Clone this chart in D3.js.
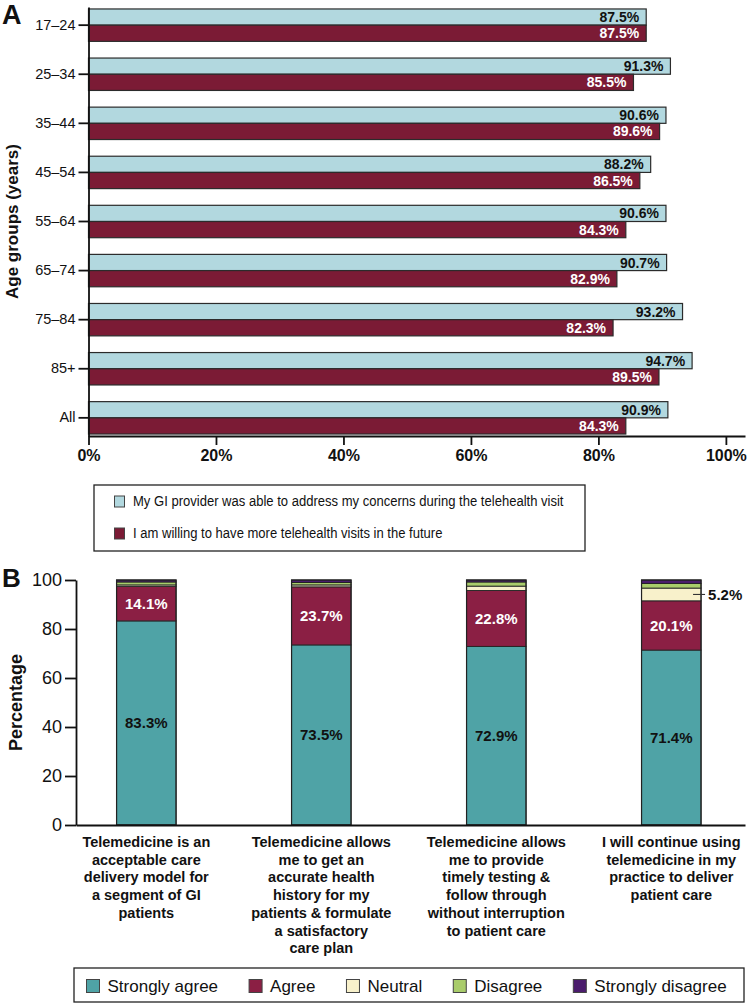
<!DOCTYPE html>
<html>
<head>
<meta charset="utf-8">
<script src="https://cdn.jsdelivr.net/npm/d3@7"></script>
<style>
  html, body { margin: 0; padding: 0; background: #fff; }
  svg { display: block; font-family: "Liberation Sans", Arial, Helvetica, sans-serif; }
</style>
</head>
<body>
<svg id="chart" width="749" height="1005"></svg>
<script>
// ---------- Panel A data ----------
const ageGroups = ["17–24", "25–34", "35–44", "45–54", "55–64", "65–74", "75–84", "85+", "All"];
const addressConcerns = [87.5, 91.3, 90.6, 88.2, 90.6, 90.7, 93.2, 94.7, 90.9];
const willingMore = [87.5, 85.5, 89.6, 86.5, 84.3, 82.9, 82.3, 89.5, 84.3];
const seriesA = ["My GI provider was able to address my concerns during the telehealth visit",
                 "I am willing to have more telehealth visits in the future"];
const xTicksA = [0, 20, 40, 60, 80, 100];

// ---------- Panel B data ----------
const statements = [
  ["Telemedicine is an", "acceptable care", "delivery model for", "a segment of GI", "patients"],
  ["Telemedicine allows", "me to get an", "accurate health", "history for my", "patients & formulate", "a satisfactory", "care plan"],
  ["Telemedicine allows", "me to provide", "timely testing &", "follow through", "without interruption", "to patient care"],
  ["I will continue using", "telemedicine in my", "practice to deliver", "patient care"]
];
const responses = ["Strongly agree", "Agree", "Neutral", "Disagree", "Strongly disagree"];
const stronglyAgree = [83.3, 73.5, 72.9, 71.4];
const agree = [14.1, 23.7, 22.8, 20.1];
const neutral = [0.6, 0.8, 1.8, 5.2];
const disagree = [1.2, 1.0, 1.7, 1.9];
const stronglyDisagree = [0.8, 1.0, 0.8, 1.4];
const yTicksB = [0, 20, 40, 60, 80, 100];

// ---------- styles ----------
const colA = ["#b2d8df", "#7b1b35"];
const colB = ["#4fa3a6", "#8b1f44", "#f8f1cb", "#a9cc6b", "#4b1c6d"];
const svg = d3.select("#chart");

// ================= PANEL A =================
const gA = svg.append("g");
const xA = d3.scaleLinear().domain([0, 103]).range([88.5, 745]);
const yA = d3.scaleBand().domain(ageGroups).range([7, 436]).paddingInner(0.34).paddingOuter(0.04);
const sub = d3.scaleBand().domain([0, 1]).range([0, yA.bandwidth()]);

const rowsA = ageGroups.map((g, i) => ({g, vals: [addressConcerns[i], willingMore[i]]}));
const grp = gA.selectAll("g.row").data(rowsA).join("g").attr("class", "row")
  .attr("transform", d => `translate(0,${yA(d.g)})`);
grp.selectAll("rect").data(d => d.vals.map((v, k) => ({v, k}))).join("rect")
  .attr("x", xA(0)).attr("y", d => sub(d.k))
  .attr("width", d => xA(d.v) - xA(0)).attr("height", sub.bandwidth())
  .attr("fill", d => colA[d.k]).attr("stroke", "#2b2b2b").attr("stroke-width", 1.2);
grp.selectAll("text").data(d => d.vals.map((v, k) => ({v, k}))).join("text")
  .attr("x", d => xA(d.v) - 7).attr("y", d => sub(d.k) + sub.bandwidth() / 2)
  .attr("dy", "0.36em").attr("text-anchor", "end")
  .attr("font-size", 14).attr("font-weight", "bold")
  .attr("fill", d => d.k === 0 ? "#111" : "#fff")
  .text(d => d.v.toFixed(1) + "%");

// y axis
const yAxisA = gA.append("g").attr("transform", `translate(${xA(0)},0)`)
  .call(d3.axisLeft(yA).tickSize(10).tickSizeOuter(0).tickPadding(3));
yAxisA.selectAll("text").attr("font-size", 14.5).attr("fill", "#111");
// x axis
const xAxisA = gA.append("g").attr("transform", `translate(0,${yA.range()[1]})`)
  .call(d3.axisBottom(xA).tickValues(xTicksA).tickFormat(d => d + "%").tickSize(9).tickSizeOuter(0).tickPadding(5));
xAxisA.selectAll("text").attr("font-size", 16).attr("font-weight", "bold").attr("fill", "#111");
[yAxisA, xAxisA].forEach(a => {
  a.attr("font-family", null);
  a.select(".domain").attr("stroke", "#111").attr("stroke-width", 1.8);
  a.selectAll(".tick line").attr("stroke", "#111").attr("stroke-width", 1.8);
});

gA.append("text").attr("transform", `translate(18,${(yA.range()[0] + yA.range()[1]) / 2}) rotate(-90)`)
  .attr("text-anchor", "middle").attr("font-size", 17).attr("font-weight", "bold").attr("fill", "#111")
  .text("Age groups (years)");
gA.append("text").attr("x", 2).attr("y", 24).attr("font-size", 27).attr("font-weight", "bold").attr("fill", "#111").text("A");

// legend A (condensed type, as in the original)
const legA = gA.append("g");
legA.append("rect").attr("x", 94).attr("y", 485).attr("width", 491).attr("height", 66)
  .attr("fill", "#fff").attr("stroke", "#222").attr("stroke-width", 1.3);
seriesA.forEach((s, k) => {
  const by = 505.5 + k * 32;
  legA.append("rect").attr("x", 114.5).attr("y", by - 9.5).attr("width", 10).attr("height", 11)
    .attr("fill", colA[k]).attr("stroke", "#444").attr("stroke-width", 1);
  legA.append("text").attr("transform", `translate(133,${by}) scale(0.87,1)`)
    .attr("font-size", 15).attr("fill", "#111").text(s);
});

// ================= PANEL B =================
const gB = svg.append("g");
const xB = d3.scaleBand().domain(d3.range(statements.length)).range([76, 745])
  .paddingInner(0.66).paddingOuter(0.2415).align(0.48);
const yB = d3.scaleLinear().domain([0, 100]).range([825, 580]);

const seriesB = [stronglyAgree, agree, neutral, disagree, stronglyDisagree];
const tableB = statements.map((s, i) => {
  const o = {i};
  responses.forEach((r, k) => o[r] = seriesB[k][i]);
  return o;
});
const stacked = d3.stack().keys(responses)(tableB);

gB.selectAll("g.layer").data(stacked).join("g").attr("class", "layer")
  .attr("fill", (d, k) => colB[k])
  .selectAll("rect").data(d => d).join("rect")
  .attr("x", d => xB(d.data.i)).attr("width", xB.bandwidth())
  .attr("y", d => yB(d[1])).attr("height", d => yB(d[0]) - yB(d[1]))
  .attr("stroke", "#222").attr("stroke-width", 0.9);

// outline around each bar
gB.selectAll("rect.outline").data(tableB).join("rect").attr("class", "outline")
  .attr("x", d => xB(d.i)).attr("width", xB.bandwidth())
  .attr("y", yB(100)).attr("height", yB(0) - yB(100))
  .attr("fill", "none").attr("stroke", "#222").attr("stroke-width", 1.2);

// value labels: strongly agree (black) and agree (white)
[0, 1].forEach(k => {
  gB.selectAll(`text.v${k}`).data(stacked[k]).join("text").attr("class", `v${k}`)
    .attr("x", d => xB(d.data.i) + xB.bandwidth() / 2)
    .attr("y", d => (yB(d[0]) + yB(d[1])) / 2).attr("dy", "0.36em")
    .attr("text-anchor", "middle").attr("font-size", 15).attr("font-weight", "bold")
    .attr("fill", k === 0 ? "#111" : "#fff")
    .text(d => d.data[responses[k]].toFixed(1) + "%");
});
// callout for Neutral on last bar
const lastN = stacked[2][3];
const cy = (yB(lastN[0]) + yB(lastN[1])) / 2;
const bx = xB(3) + xB.bandwidth();
gB.append("line").attr("x1", bx - 8).attr("x2", bx + 4).attr("y1", cy).attr("y2", cy)
  .attr("stroke", "#333").attr("stroke-width", 1.1);
gB.append("text").attr("x", bx + 7).attr("y", cy).attr("dy", "0.36em")
  .attr("font-size", 15).attr("font-weight", "bold").attr("fill", "#111")
  .text(lastN.data["Neutral"].toFixed(1) + "%");

// axes
const yAxisB = gB.append("g").attr("transform", `translate(76,0)`)
  .call(d3.axisLeft(yB).tickValues(yTicksB).tickSize(11).tickSizeOuter(0).tickPadding(3));
yAxisB.selectAll("text").attr("font-size", 18).attr("fill", "#111");
const xAxisB = gB.append("g").attr("transform", `translate(0,${yB(0)})`)
  .call(d3.axisBottom(xB).tickSize(0).tickSizeOuter(0).tickFormat(""));
[yAxisB, xAxisB].forEach(a => {
  a.attr("font-family", null);
  a.select(".domain").attr("stroke", "#111").attr("stroke-width", 1.8);
  a.selectAll(".tick line").attr("stroke", "#111").attr("stroke-width", 1.8);
});

// category labels
statements.forEach((lines, i) => {
  const t = gB.append("text").attr("text-anchor", "middle").attr("font-size", 14.5)
    .attr("font-weight", "bold").attr("fill", "#111");
  lines.forEach((ln, j) => {
    t.append("tspan").attr("x", xB(i) + xB.bandwidth() / 2).attr("y", 847 + j * 17.7).text(ln);
  });
});

gB.append("text").attr("transform", `translate(22,${(yB(0) + yB(100)) / 2}) rotate(-90)`)
  .attr("text-anchor", "middle").attr("font-size", 18).attr("font-weight", "bold").attr("fill", "#111")
  .text("Percentage");
gB.append("text").attr("x", 2).attr("y", 587).attr("font-size", 26).attr("font-weight", "bold").attr("fill", "#111").text("B");

// legend B
const legB = gB.append("g");
legB.append("rect").attr("x", 74).attr("y", 968).attr("width", 670).attr("height", 34)
  .attr("fill", "#fff").attr("stroke", "#222").attr("stroke-width", 1.3);
let lx = 86.5;
responses.forEach((r, k) => {
  legB.append("rect").attr("x", lx).attr("y", 979.5).attr("width", 13).attr("height", 13)
    .attr("fill", colB[k]).attr("stroke", "#444").attr("stroke-width", 1);
  const t = legB.append("text").attr("x", lx + 21).attr("y", 991.5).attr("font-size", 17).attr("fill", "#111").text(r);
  lx = lx + 21 + t.node().getComputedTextLength() + 31;
});
</script>
</body>
</html>
